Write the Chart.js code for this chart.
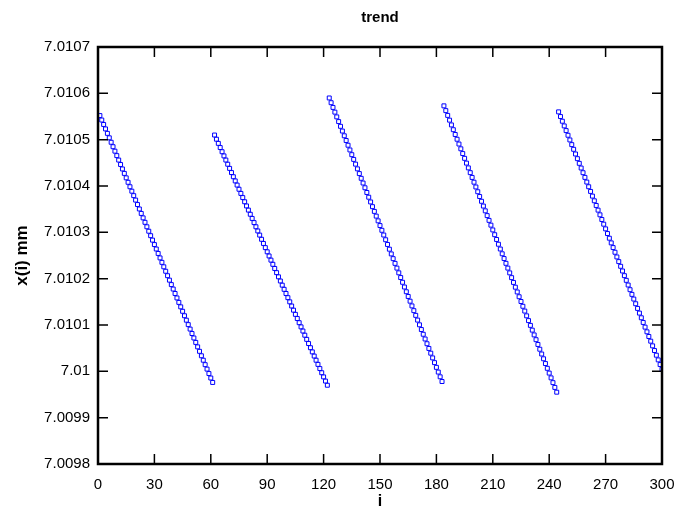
<!DOCTYPE html>
<html>
<head>
<meta charset="utf-8">
<script src="https://cdn.jsdelivr.net/npm/chart.js@4/dist/chart.umd.min.js"></script>
<style>
html,body{margin:0;padding:0;background:#fff;}
#wrap{width:675px;height:513px;}
</style>
</head>
<body>
<div id="wrap"><canvas id="c" width="675" height="513"></canvas></div>
<script>
// Tick labels
const xTickValues = [0, 30, 60, 90, 120, 150, 180, 210, 240, 270, 300];
const yTickValues = [7.0098, 7.0099, 7.0100, 7.0101, 7.0102, 7.0103, 7.0104, 7.0105, 7.0106, 7.0107];
const yTickLabels = ['7.0098', '7.0099', '7.01', '7.0101', '7.0102', '7.0103', '7.0104', '7.0105', '7.0106', '7.0107'];

// First index i of each run of measurements
const segmentStarts = [1, 62, 123, 184, 245];

// x(i) in mm
const trend1 = [
  7.0105520, 7.0105424, 7.0105328, 7.0105232, 7.0105136, 7.0105040, 7.0104944, 7.0104848, 7.0104752, 7.0104656,
  7.0104560, 7.0104464, 7.0104368, 7.0104272, 7.0104176, 7.0104080, 7.0103984, 7.0103888, 7.0103792, 7.0103696,
  7.0103600, 7.0103504, 7.0103408, 7.0103312, 7.0103216, 7.0103120, 7.0103024, 7.0102928, 7.0102832, 7.0102736,
  7.0102640, 7.0102544, 7.0102448, 7.0102352, 7.0102256, 7.0102160, 7.0102064, 7.0101968, 7.0101872, 7.0101776,
  7.0101680, 7.0101584, 7.0101488, 7.0101392, 7.0101296, 7.0101200, 7.0101104, 7.0101008, 7.0100912, 7.0100816,
  7.0100720, 7.0100624, 7.0100528, 7.0100432, 7.0100336, 7.0100240, 7.0100144, 7.0100048, 7.0099952, 7.0099856,
  7.0099760
];
const trend2 = [
  7.0105100, 7.0105010, 7.0104920, 7.0104830, 7.0104740, 7.0104650, 7.0104560, 7.0104470, 7.0104380, 7.0104290,
  7.0104200, 7.0104110, 7.0104020, 7.0103930, 7.0103840, 7.0103750, 7.0103660, 7.0103570, 7.0103480, 7.0103390,
  7.0103300, 7.0103210, 7.0103120, 7.0103030, 7.0102940, 7.0102850, 7.0102760, 7.0102670, 7.0102580, 7.0102490,
  7.0102400, 7.0102310, 7.0102220, 7.0102130, 7.0102040, 7.0101950, 7.0101860, 7.0101770, 7.0101680, 7.0101590,
  7.0101500, 7.0101410, 7.0101320, 7.0101230, 7.0101140, 7.0101050, 7.0100960, 7.0100870, 7.0100780, 7.0100690,
  7.0100600, 7.0100510, 7.0100420, 7.0100330, 7.0100240, 7.0100150, 7.0100060, 7.0099970, 7.0099880, 7.0099790,
  7.0099700
];
const trend3 = [
  7.0105900, 7.0105798, 7.0105696, 7.0105594, 7.0105492, 7.0105390, 7.0105288, 7.0105186, 7.0105084, 7.0104982,
  7.0104880, 7.0104778, 7.0104676, 7.0104574, 7.0104472, 7.0104370, 7.0104268, 7.0104166, 7.0104064, 7.0103962,
  7.0103860, 7.0103758, 7.0103656, 7.0103554, 7.0103452, 7.0103350, 7.0103248, 7.0103146, 7.0103044, 7.0102942,
  7.0102840, 7.0102738, 7.0102636, 7.0102534, 7.0102432, 7.0102330, 7.0102228, 7.0102126, 7.0102024, 7.0101922,
  7.0101820, 7.0101718, 7.0101616, 7.0101514, 7.0101412, 7.0101310, 7.0101208, 7.0101106, 7.0101004, 7.0100902,
  7.0100800, 7.0100698, 7.0100596, 7.0100494, 7.0100392, 7.0100290, 7.0100188, 7.0100086, 7.0099984, 7.0099882,
  7.0099780
];
const trend4 = [
  7.0105730, 7.0105627, 7.0105524, 7.0105421, 7.0105318, 7.0105215, 7.0105112, 7.0105009, 7.0104906, 7.0104803,
  7.0104700, 7.0104597, 7.0104494, 7.0104391, 7.0104288, 7.0104185, 7.0104082, 7.0103979, 7.0103876, 7.0103773,
  7.0103670, 7.0103567, 7.0103464, 7.0103361, 7.0103258, 7.0103155, 7.0103052, 7.0102949, 7.0102846, 7.0102743,
  7.0102640, 7.0102537, 7.0102434, 7.0102331, 7.0102228, 7.0102125, 7.0102022, 7.0101919, 7.0101816, 7.0101713,
  7.0101610, 7.0101507, 7.0101404, 7.0101301, 7.0101198, 7.0101095, 7.0100992, 7.0100889, 7.0100786, 7.0100683,
  7.0100580, 7.0100477, 7.0100374, 7.0100271, 7.0100168, 7.0100065, 7.0099962, 7.0099859, 7.0099756, 7.0099653,
  7.0099550
];
const trend5 = [
  7.0105600, 7.0105499, 7.0105398, 7.0105297, 7.0105196, 7.0105095, 7.0104994, 7.0104893, 7.0104792, 7.0104691,
  7.0104590, 7.0104489, 7.0104388, 7.0104287, 7.0104186, 7.0104085, 7.0103984, 7.0103883, 7.0103782, 7.0103681,
  7.0103580, 7.0103479, 7.0103378, 7.0103277, 7.0103176, 7.0103075, 7.0102974, 7.0102873, 7.0102772, 7.0102671,
  7.0102570, 7.0102469, 7.0102368, 7.0102267, 7.0102166, 7.0102065, 7.0101964, 7.0101863, 7.0101762, 7.0101661,
  7.0101560, 7.0101459, 7.0101358, 7.0101257, 7.0101156, 7.0101055, 7.0100954, 7.0100853, 7.0100752, 7.0100651,
  7.0100550, 7.0100449, 7.0100348, 7.0100247, 7.0100146, 7.0100045
];

const segments = [trend1, trend2, trend3, trend4, trend5];
const points = [];
segments.forEach((seg, s) => {
  seg.forEach((v, k) => points.push({ x: segmentStarts[s] + k, y: v }));
});

const FONT = "'Liberation Sans', Arial, Helvetica, sans-serif";

const framePlugin = {
  id: 'frame',
  afterDraw(chart) {
    const { ctx, chartArea: a, scales } = chart;
    const tl = 10;
    ctx.save();
    ctx.strokeStyle = '#000';
    ctx.lineWidth = 1.5;
    ctx.beginPath();
    xTickValues.forEach(v => {
      const px = scales.x.getPixelForValue(v);
      ctx.moveTo(px, a.bottom); ctx.lineTo(px, a.bottom - tl);
      ctx.moveTo(px, a.top); ctx.lineTo(px, a.top + tl);
    });
    yTickValues.forEach(v => {
      const py = scales.y.getPixelForValue(v);
      ctx.moveTo(a.left, py); ctx.lineTo(a.left + tl, py);
      ctx.moveTo(a.right, py); ctx.lineTo(a.right - tl, py);
    });
    ctx.stroke();
    ctx.lineWidth = 2.5;
    ctx.strokeRect(a.left, a.top, a.right - a.left, a.bottom - a.top);
    ctx.restore();
  }
};

new Chart(document.getElementById('c').getContext('2d'), {
  type: 'scatter',
  data: {
    datasets: [{
      data: points,
      pointStyle: 'rect',
      pointRadius: 2.8,
      pointHoverRadius: 2.8,
      pointBorderColor: '#0000ff',
      borderColor: '#0000ff',
      backgroundColor: 'rgba(255,255,255,0)',
      borderWidth: 1,
      showLine: false
    }]
  },
  options: {
    responsive: false,
    animation: false,
    devicePixelRatio: 1,
    layout: { padding: { left: 0, right: 0, top: 0, bottom: 0 } },
    plugins: {
      legend: { display: false },
      tooltip: { enabled: false },
      title: {
        display: true,
        text: 'trend',
        fullSize: false,
        color: '#000',
        font: { family: FONT, size: 15, weight: 'bold' },
        padding: { top: 9, bottom: 20 }
      }
    },
    scales: {
      x: {
        type: 'linear',
        min: 0,
        max: 300,
        afterBuildTicks: s => { s.ticks = xTickValues.map(v => ({ value: v })); },
        afterFit: s => { s.height = 49; s.paddingLeft = 0; s.paddingRight = 13; },
        grid: { display: false, drawTicks: false },
        border: { display: false },
        ticks: {
          padding: 12, color: '#000', autoSkip: false, maxRotation: 0,
          font: { family: FONT, size: 15 }
        },
        title: {
          display: true, text: 'i', color: '#000',
          font: { family: FONT, size: 16, weight: 'bold' },
          padding: { top: 0, bottom: 2 }
        }
      },
      y: {
        type: 'linear',
        min: 7.0098,
        max: 7.0107,
        afterBuildTicks: s => { s.ticks = yTickValues.map(v => ({ value: v })); },
        afterFit: s => { s.width = 98; },
        grid: { display: false, drawTicks: false },
        border: { display: false },
        ticks: {
          padding: 8, color: '#000', autoSkip: false,
          font: { family: FONT, size: 15 },
          callback: (v) => {
            const idx = yTickValues.findIndex(t => Math.abs(t - v) < 1e-9);
            return idx >= 0 ? yTickLabels[idx] : '';
          }
        },
        title: {
          display: true, text: 'x(i) mm', color: '#000',
          font: { family: FONT, size: 17, weight: 'bold' },
          padding: { top: 12, bottom: 0 }
        }
      }
    }
  },
  plugins: [framePlugin]
});
</script>
</body>
</html>
